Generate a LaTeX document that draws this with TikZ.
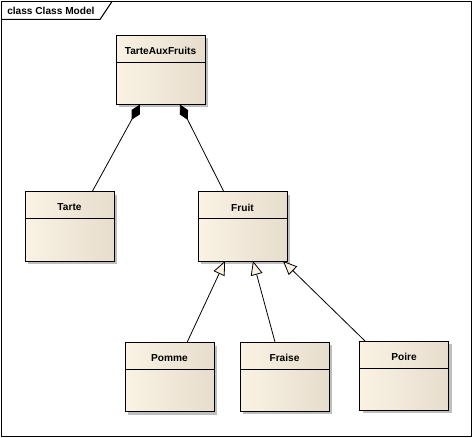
\documentclass[tikz,border=0pt]{standalone}
\usepackage{fontspec}
\setmainfont{Liberation Sans}
\usetikzlibrary{calc,shadows,arrows.meta}

\definecolor{classfill}{HTML}{FAF2E3}
\definecolor{classshade}{HTML}{E6DDCD}
\definecolor{shadowgray}{HTML}{BEBEBE}

\begin{document}
\begin{tikzpicture}[x=0.75pt,y=-0.75pt,
    classbox/.style={draw,line width=0.75pt,inner sep=0pt,outer sep=0pt,
        minimum width=66.75pt,minimum height=51.75pt,
        left color=classfill,right color=classshade,
        drop shadow={shadow xshift=2.25pt,shadow yshift=-2.25pt,fill=shadowgray,opacity=1}},
    classname/.style={font=\fontsize{7.6}{8}\selectfont\bfseries,inner sep=0pt},
    compose/.style={line width=0.6pt,-{Diamond[length=13pt,width=7pt]}},
    inherit/.style={line width=0.6pt,-{Triangle[length=10.5pt,width=9pt,fill=classfill]}}]
\useasboundingbox (0,0) rectangle (474,438);

% frame
\draw[line width=0.75pt] (1.5,1.5) rectangle (471.5,436.5);
\draw[line width=0.75pt] (1.5,19.5) -- (100,19.5) -- (112,1.5);
\node[classname,anchor=west] (title) at (7,11) {class Class Model};

% classes
\node[classbox] (tarteauxfruits) at (160.5,70) {};
\node[classbox] (tarte) at (69.5,226.5) {};
\node[classbox] (fruit) at (242.5,226.5) {};
\node[classbox] (pomme) at (169.5,377) {};
\node[classbox] (fraise) at (284.5,376.5) {};
\node[classbox] (poire) at (404,375.5) {};

\foreach \c/\t in {tarteauxfruits/TarteAuxFruits,tarte/Tarte,fruit/Fruit,
                   pomme/Pomme,fraise/Fraise,poire/Poire}{
  \node[classname] (\c-name) at ($(\c.north)+(0,15.5)$) {\t};
  \draw[line width=0.75pt] ($(\c.north west)+(0,27)$) -- ($(\c.north east)+(0,27)$);
}

% composition
\draw[compose] ($(tarte.north)+(22.5,0)$) -- ($(tarteauxfruits.south)+(-20.5,0)$);
\draw[compose] ($(fruit.north)+(-18.5,0)$) -- ($(tarteauxfruits.south)+(19.5,0)$);

% generalisation
\draw[inherit] ($(pomme.north)+(17.5,0)$) -- ($(fruit.south)+(-17.5,0)$);
\draw[inherit] ($(fraise.north)+(-9.5,0)$) -- ($(fruit.south)+(10.5,0)$);
\draw[inherit] ($(poire.north)+(-39,0)$) -- ($(fruit.south)+(40.5,0)$);
\end{tikzpicture}
\end{document}
